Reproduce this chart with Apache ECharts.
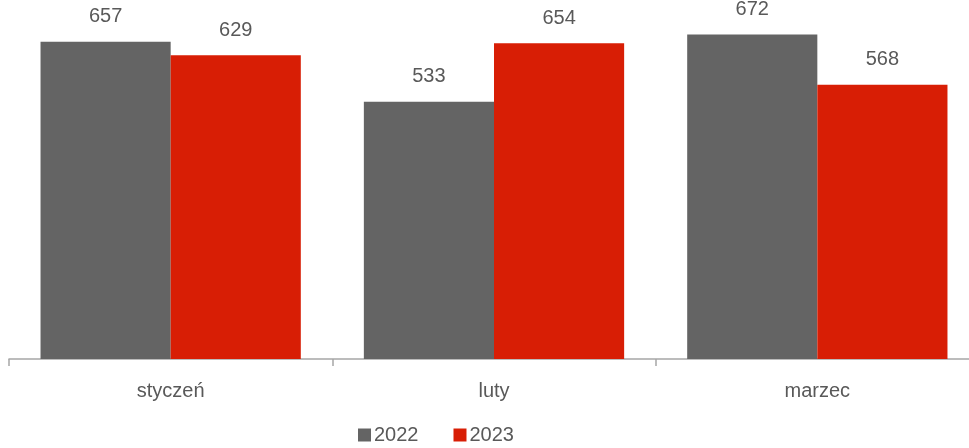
<!DOCTYPE html>
<html><head><meta charset="utf-8">
<script src="https://cdn.jsdelivr.net/npm/echarts@6/dist/echarts.min.js"></script>
<style>html,body{margin:0;padding:0;background:#fff}#c{width:969px;height:448px}</style>
</head><body><div id="c"></div>
<script>
const categories = ['styczeń', 'luty', 'marzec'];
const seriesNames = ['2022', '2023'];
const values2022 = [657, 533, 672];
const values2023 = [629, 654, 568];

const FONT = '"Liberation Sans Narrow", "Arial Narrow", "Liberation Sans", sans-serif';
const chart = echarts.init(document.getElementById('c'), null, {renderer: 'canvas'});
const lbl = {show: true, position: 'top', distance: 15, color: '#595959', fontFamily: FONT, fontSize: 20};
chart.setOption({
  animation: false,
  grid: {left: 9, right: -10, top: 21, bottom: 89, containLabel: false, outerBoundsMode: 'none'},
  legend: {
    bottom: -2, left: 353, itemWidth: 13, itemHeight: 13, itemGap: 35, icon: 'rect',
    textStyle: {color: '#595959', fontFamily: FONT, fontSize: 20, padding: [3, 0, 0, -2]},
    data: seriesNames
  },
  xAxis: {
    type: 'category', data: categories,
    axisLine: {lineStyle: {color: '#a6a6a6', width: 1.5}},
    axisTick: {show: true, length: 7, lineStyle: {color: '#a6a6a6', width: 1.5}},
    axisLabel: {color: '#595959', fontFamily: FONT, fontSize: 20, margin: 22}
  },
  yAxis: {type: 'value', min: 0, max: 700, show: false, splitLine: {show: false}},
  series: [
    {name: seriesNames[0], type: 'bar', data: values2022, itemStyle: {color: '#646464'}, barGap: '0%', barCategoryGap: '19.5%', label: lbl},
    {name: seriesNames[1], type: 'bar', data: values2023, itemStyle: {color: '#d81e05'}, label: lbl}
  ]
});
</script></body></html>
